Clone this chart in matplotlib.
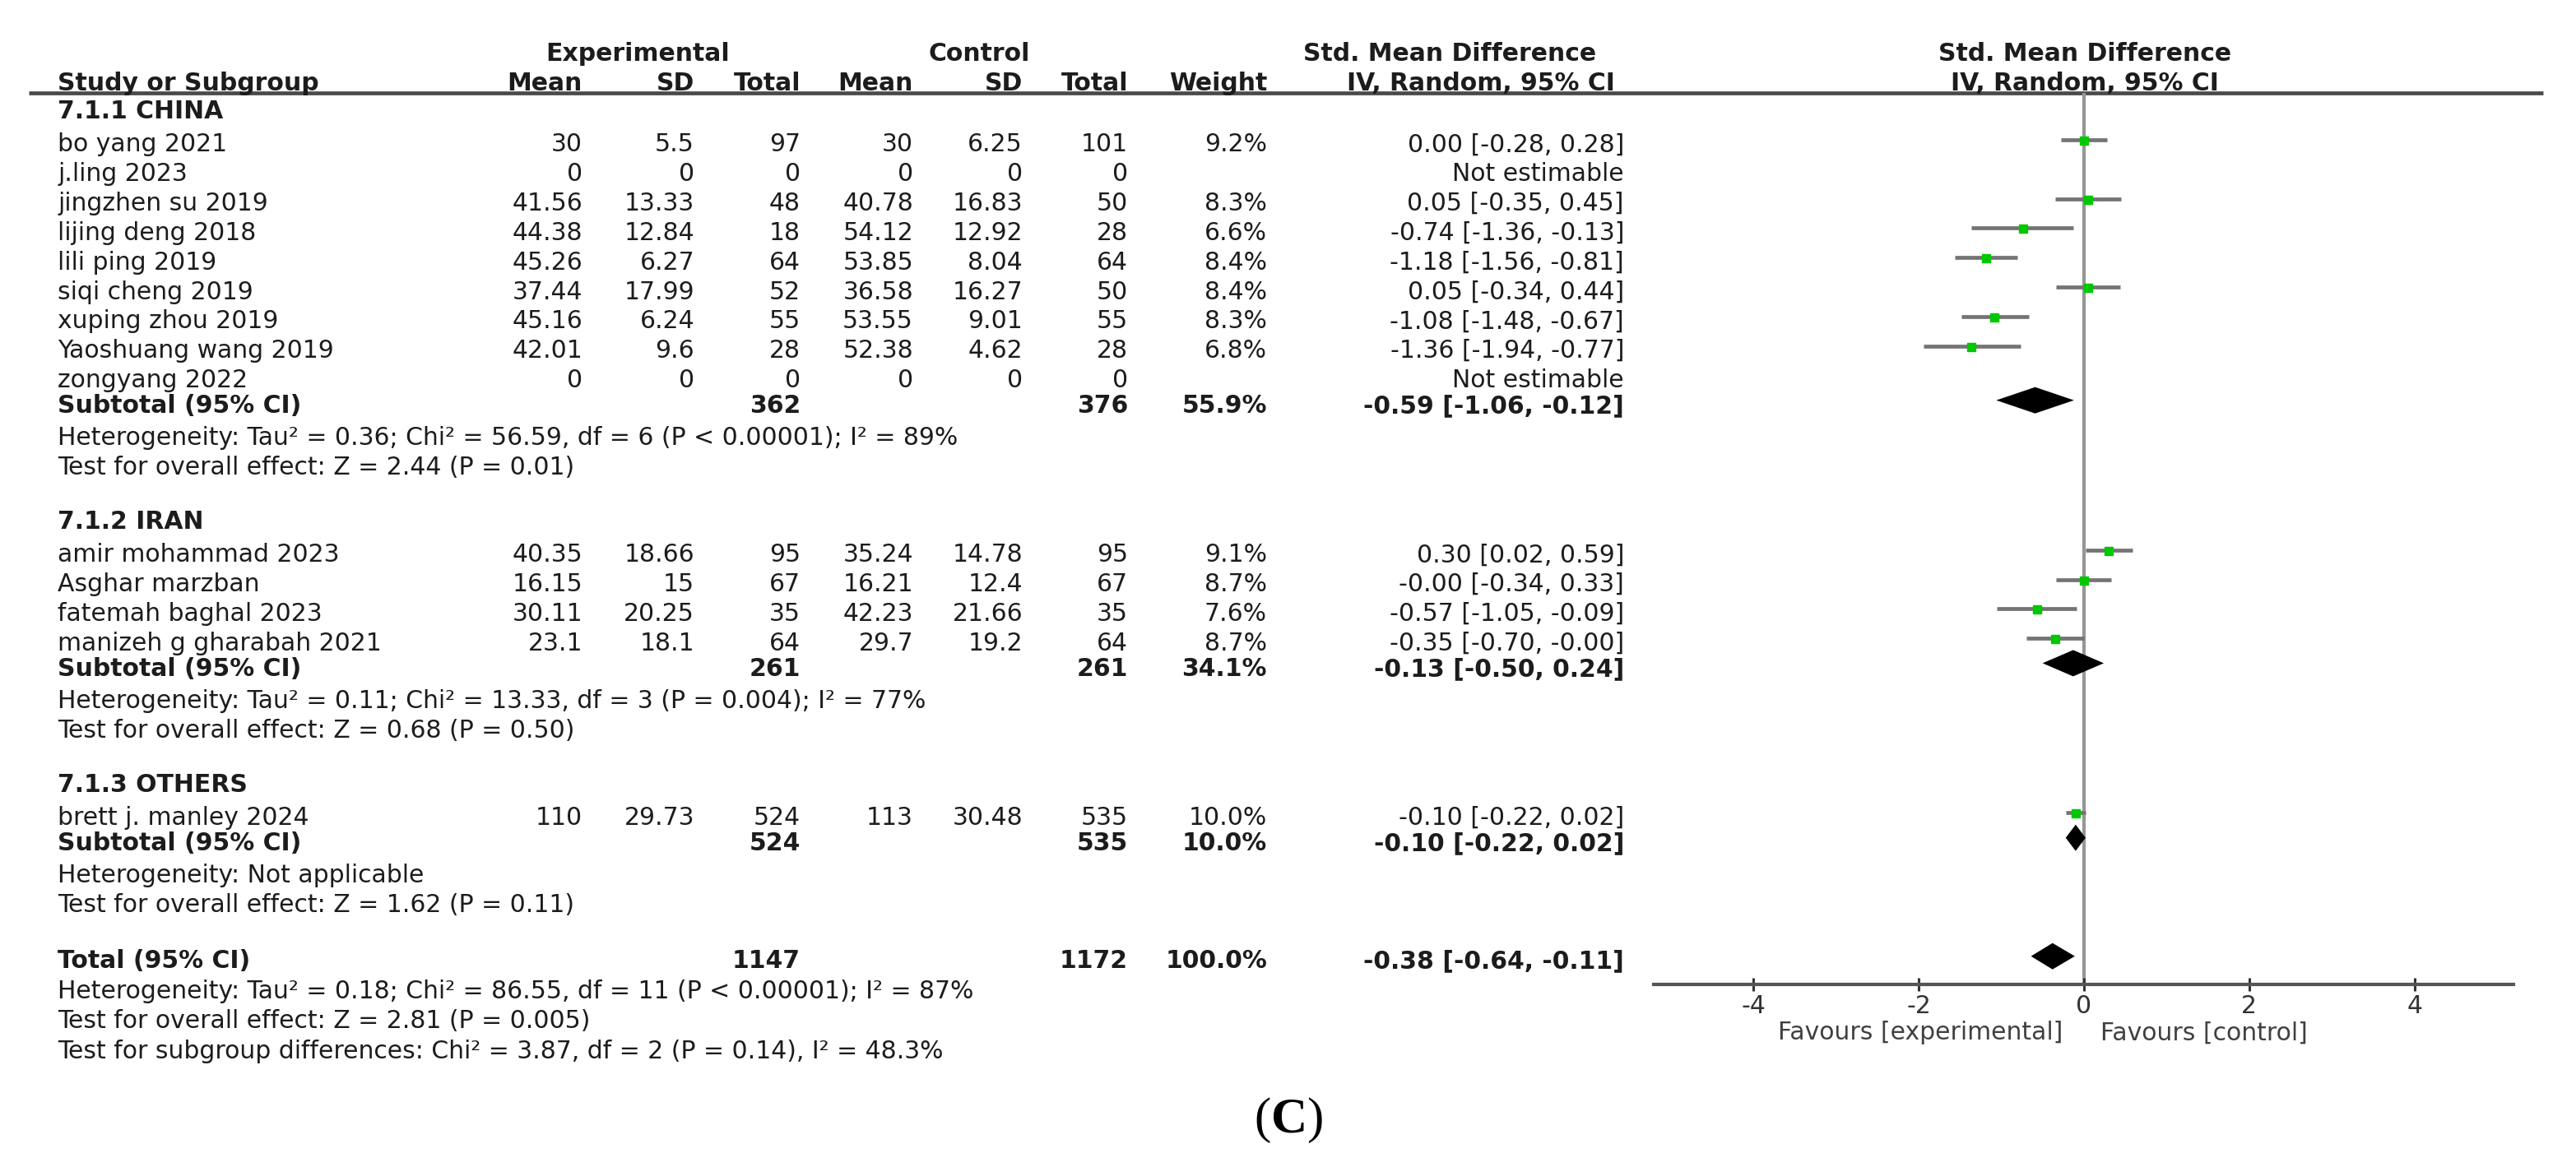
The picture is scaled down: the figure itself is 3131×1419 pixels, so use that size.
import matplotlib.pyplot as plt

plt.rcParams['font.family'] = ['DejaVu Sans']
plt.rcParams['mathtext.fontset'] = 'custom'
plt.rcParams['mathtext.rm'] = 'Liberation Serif'
plt.rcParams['mathtext.bf'] = 'Liberation Serif:bold'

W, H = 3131, 1419
FS = 21.5
TXT = '#1c1c1c'

# ---- data ----
group_titles = ['7.1.1 CHINA', '7.1.2 IRAN', '7.1.3 OTHERS']

china_names = ['bo yang 2021', 'j.ling 2023', 'jingzhen su 2019', 'lijing deng 2018', 'lili ping 2019',
               'siqi cheng 2019', 'xuping zhou 2019', 'Yaoshuang wang 2019', 'zongyang 2022']
china_exp_mean = [30, 0, 41.56, 44.38, 45.26, 37.44, 45.16, 42.01, 0]
china_exp_sd = [5.5, 0, 13.33, 12.84, 6.27, 17.99, 6.24, 9.6, 0]
china_exp_n = [97, 0, 48, 18, 64, 52, 55, 28, 0]
china_ctl_mean = [30, 0, 40.78, 54.12, 53.85, 36.58, 53.55, 52.38, 0]
china_ctl_sd = [6.25, 0, 16.83, 12.92, 8.04, 16.27, 9.01, 4.62, 0]
china_ctl_n = [101, 0, 50, 28, 64, 50, 55, 28, 0]
china_weight = [9.2, None, 8.3, 6.6, 8.4, 8.4, 8.3, 6.8, None]
china_smd = [0.00, None, 0.05, -0.74, -1.18, 0.05, -1.08, -1.36, None]
china_lo = [-0.28, None, -0.35, -1.36, -1.56, -0.34, -1.48, -1.94, None]
china_hi = [0.28, None, 0.45, -0.13, -0.81, 0.44, -0.67, -0.77, None]

iran_names = ['amir mohammad 2023', 'Asghar marzban', 'fatemah baghal 2023', 'manizeh g gharabah 2021']
iran_exp_mean = [40.35, 16.15, 30.11, 23.1]
iran_exp_sd = [18.66, 15, 20.25, 18.1]
iran_exp_n = [95, 67, 35, 64]
iran_ctl_mean = [35.24, 16.21, 42.23, 29.7]
iran_ctl_sd = [14.78, 12.4, 21.66, 19.2]
iran_ctl_n = [95, 67, 35, 64]
iran_weight = [9.1, 8.7, 7.6, 8.7]
iran_smd = [0.30, -0.0, -0.57, -0.35]
iran_lo = [0.02, -0.34, -1.05, -0.70]
iran_hi = [0.59, 0.33, -0.09, -0.0]

other_names = ['brett j. manley 2024']
other_exp_mean = [110]
other_exp_sd = [29.73]
other_exp_n = [524]
other_ctl_mean = [113]
other_ctl_sd = [30.48]
other_ctl_n = [535]
other_weight = [10.0]
other_smd = [-0.10]
other_lo = [-0.22]
other_hi = [0.02]

sub_exp_n = [362, 261, 524]
sub_ctl_n = [376, 261, 535]
sub_weight = [55.9, 34.1, 10.0]
sub_smd = [-0.59, -0.13, -0.10]
sub_lo = [-1.06, -0.50, -0.22]
sub_hi = [-0.12, 0.24, 0.02]
sub_het = ['Heterogeneity: Tau² = 0.36; Chi² = 56.59, df = 6 (P < 0.00001); I² = 89%',
           'Heterogeneity: Tau² = 0.11; Chi² = 13.33, df = 3 (P = 0.004); I² = 77%',
           'Heterogeneity: Not applicable']
sub_test = ['Test for overall effect: Z = 2.44 (P = 0.01)',
            'Test for overall effect: Z = 0.68 (P = 0.50)',
            'Test for overall effect: Z = 1.62 (P = 0.11)']

total_exp_n, total_ctl_n, total_weight = 1147, 1172, 100.0
total_smd, total_lo, total_hi = -0.38, -0.64, -0.11
total_notes = ['Heterogeneity: Tau² = 0.18; Chi² = 86.55, df = 11 (P < 0.00001); I² = 87%',
               'Test for overall effect: Z = 2.81 (P = 0.005)',
               'Test for subgroup differences: Chi² = 3.87, df = 2 (P = 0.14), I² = 48.3%']

x_ticks = [-4, -2, 0, 2, 4]
fav_left, fav_right = 'Favours [experimental]', 'Favours [control]'

groups = [
    (china_names, china_exp_mean, china_exp_sd, china_exp_n, china_ctl_mean, china_ctl_sd, china_ctl_n,
     china_weight, china_smd, china_lo, china_hi),
    (iran_names, iran_exp_mean, iran_exp_sd, iran_exp_n, iran_ctl_mean, iran_ctl_sd, iran_ctl_n,
     iran_weight, iran_smd, iran_lo, iran_hi),
    (other_names, other_exp_mean, other_exp_sd, other_exp_n, other_ctl_mean, other_ctl_sd, other_ctl_n,
     other_weight, other_smd, other_lo, other_hi),
]

# column right edges (px)
X_NAME = 70
COLS = [708, 844, 973, 1110, 1243, 1371]
X_WEIGHT = 1540
X_CI = 1974


def ci_str(m, lo, hi):
    return f'{m:.2f} [{lo:.2f}, {hi:.2f}]'


fig = plt.figure(figsize=(W / 100, H / 100), dpi=100)
tab = fig.add_axes([0, 0, 1, 1])
tab.set_xlim(0, W)
tab.set_ylim(H, 0)
tab.axis('off')

ax = fig.add_axes([2010.4 / W, (H - 1197) / H, 1045 / W, (1197 - 113) / H])
ax.patch.set_alpha(0)
ax.set_xlim(-5.2, 5.2)
ax.set_ylim(1197, 113)


def put(x, y, s, ha='right', bold=False, color=TXT):
    tab.text(x, y, s, ha=ha, va='center_baseline', fontsize=FS, color=color,
             fontweight='bold' if bold else 'normal')


# headers
put(775, 63, 'Experimental', ha='center', bold=True)
put(1190, 63, 'Control', ha='center', bold=True)
put(1762, 63, 'Std. Mean Difference', ha='center', bold=True)
put(2534, 63, 'Std. Mean Difference', ha='center', bold=True)
put(X_NAME, 98, 'Study or Subgroup', ha='left', bold=True)
for x, s in zip(COLS, ['Mean', 'SD', 'Total', 'Mean', 'SD', 'Total']):
    put(x, 98, s, bold=True)
put(X_WEIGHT, 98, 'Weight', bold=True)
put(1800, 98, 'IV, Random, 95% CI', ha='center', bold=True)
put(2534, 98, 'IV, Random, 95% CI', ha='center', bold=True)
tab.plot([35, 3091], [113, 113], color='#4a4a4a', lw=3.4, solid_capstyle='butt')

# body
y = 133
for gi, g in enumerate(groups):
    names, em, esd, en, cm, csd, cn, wt, smd, lo, hi = g
    put(X_NAME, y, group_titles[gi], ha='left', bold=True)
    y += 40
    for i in range(len(names)):
        put(X_NAME, y, names[i], ha='left')
        for x, v in zip(COLS, [em[i], esd[i], en[i], cm[i], csd[i], cn[i]]):
            put(x, y, f'{v:g}')
        if smd[i] is None:
            put(X_CI, y, 'Not estimable')
        else:
            put(X_WEIGHT, y, f'{wt[i]:.1f}%')
            put(X_CI, y, ci_str(smd[i], lo[i], hi[i]))
            ax.hlines(y - 3, lo[i], hi[i], color='#747474', lw=3.4, zorder=3)
            ax.plot(smd[i], y - 2, marker='s', ms=7, color='#00c800', mec='#00c800', zorder=4)
        y += 35.8
    y -= 4.5
    put(X_NAME, y, 'Subtotal (95% CI)', ha='left', bold=True)
    put(COLS[2], y, f'{sub_exp_n[gi]}', bold=True)
    put(COLS[5], y, f'{sub_ctl_n[gi]}', bold=True)
    put(X_WEIGHT, y, f'{sub_weight[gi]:.1f}%', bold=True)
    put(X_CI, y, ci_str(sub_smd[gi], sub_lo[gi], sub_hi[gi]), bold=True)
    ax.fill([sub_lo[gi], sub_smd[gi], sub_hi[gi], sub_smd[gi]], [y - 4, y - 20, y - 4, y + 12],
            color='black', lw=0, zorder=5)
    y += 39
    put(X_NAME, y, sub_het[gi], ha='left')
    y += 36
    put(X_NAME, y, sub_test[gi], ha='left')
    y += 66

y += 2
put(X_NAME, y, 'Total (95% CI)', ha='left', bold=True)
put(COLS[2], y, f'{total_exp_n}', bold=True)
put(COLS[5], y, f'{total_ctl_n}', bold=True)
put(X_WEIGHT, y, f'{total_weight:.1f}%', bold=True)
put(X_CI, y, ci_str(total_smd, total_lo, total_hi), bold=True)
ax.fill([total_lo, total_smd, total_hi, total_smd], [y - 3, y - 19, y - 3, y + 13],
        color='black', lw=0, zorder=5)
for note in total_notes:
    y += 36.5
    put(X_NAME, y, note, ha='left')

# forest axis
ax.axvline(0, color='#969696', lw=3, zorder=1)
for s in ['left', 'top', 'right']:
    ax.spines[s].set_visible(False)
ax.spines['bottom'].set_color('#555555')
ax.spines['bottom'].set_linewidth(3)
ax.set_yticks([])
ax.set_xticks(x_ticks)
ax.set_xticklabels([str(t) for t in x_ticks])
ax.tick_params(axis='x', direction='inout', length=11, width=2.2, color='#333333',
               labelsize=FS, labelcolor='#333333', pad=3)

put(2507, 1253, fav_left, color='#404040')
put(2553, 1253, fav_right, ha='left', color='#404040')

tab.text(1566, 1362, r'($\mathbf{C}$)', ha='center', va='center', fontsize=44,
         family='Liberation Serif', color='black')

fig.savefig('out.png', dpi=100, facecolor='white')
